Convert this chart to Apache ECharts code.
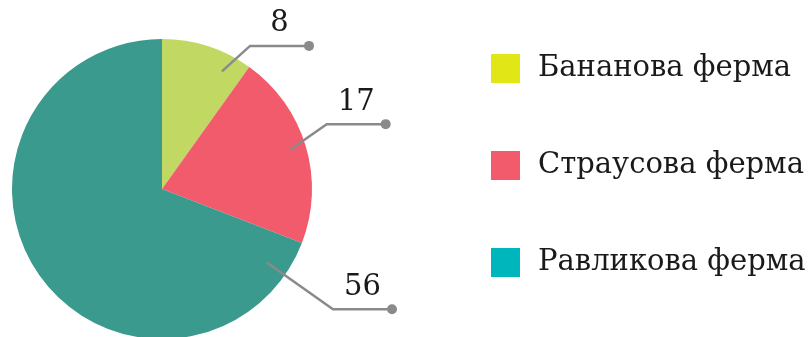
<!DOCTYPE html>
<html><head><meta charset="utf-8">
<script src="https://cdn.jsdelivr.net/npm/echarts@6/dist/echarts.min.js"></script>
<style>html,body{margin:0;padding:0;background:#fff}#chart{width:812px;height:337px}</style>
</head><body><div id="chart"></div>
<script>
// Data
const farms = ['Бананова ферма', 'Страусова ферма', 'Равликова ферма'];
const counts = [8, 17, 56];

// Colours: slices and legend swatches
const sliceColors = ['#c1d962', '#f15b6b', '#3a9a8e'];
const legendColors = ['#e1e617', '#f15b6b', '#00b6bd'];

// Pie geometry (pixels)
const CX = 162, CY = 189, R = 150;

// Callout placement per slice: anchor inside slice, elbow outside, horizontal shelf
const anchorDeg = [27, 73, 125];
const anchorR = [132, 134, 128];
const elbowDeg = [31.6, 68.5, 125.1];
const elbowR = [168, 177, 209];
const SHELF = 59;

const FONT = 'DejaVu Serif';
const TEXT = '#1a1a1a';
const LINE = '#8a8a8a';

function polar(deg, r) {
  const a = deg * Math.PI / 180;
  return [CX + r * Math.sin(a), CY - r * Math.cos(a)];
}
function callout(i) {
  const a = polar(anchorDeg[i], anchorR[i]);
  const e = polar(elbowDeg[i], elbowR[i]);
  const end = [e[0] + SHELF, e[1]];
  return { a, e, end };
}

const chart = echarts.init(document.getElementById('chart'), null, { renderer: 'canvas' });

const pieBase = {
  type: 'pie',
  center: [CX, CY],
  radius: R,
  startAngle: 90,
  clockwise: true,
  avoidLabelOverlap: false,
  silent: true,
  emphasis: { disabled: true }
};

chart.setOption({
  animation: false,
  backgroundColor: '#fff',
  legend: {
    orient: 'vertical',
    left: 491,
    top: 54,
    padding: 0,
    icon: 'rect',
    itemWidth: 29,
    itemHeight: 29,
    itemGap: 68,
    selectedMode: false,
    textStyle: { fontFamily: FONT, fontSize: 29, color: TEXT, padding: [0, 0, 0, 13] },
    data: farms.map((n, i) => ({ name: n, itemStyle: { color: legendColors[i] } }))
  },
  graphic: farms.map((n, i) => {
    const c = callout(i);
    return {
      type: 'circle', silent: true, z: 100,
      shape: { cx: c.end[0], cy: c.end[1], r: 5 },
      style: { fill: LINE }
    };
  }),
  series: [
    // filled slices
    Object.assign({}, pieBase, {
      name: 'slices',
      z: 2,
      itemStyle: { borderWidth: 0 },
      label: { show: false },
      labelLine: { show: false },
      data: farms.map((n, i) => ({ name: n, value: counts[i], itemStyle: { color: sliceColors[i] } }))
    }),
    // value callouts drawn over the slices
    Object.assign({}, pieBase, {
      name: 'callouts',
      z: 10,
      itemStyle: { color: 'rgba(0,0,0,0)', borderWidth: 0 },
      data: farms.map((n, i) => ({ name: n, value: counts[i] })),
      label: {
        show: true,
        position: 'outside',
        formatter: '{c}',
        fontFamily: FONT,
        fontSize: 29,
        color: TEXT
      },
      labelLine: {
        show: true,
        length: 20,
        length2: 40,
        lineStyle: { color: LINE, width: 2.5 }
      },
      labelLayout: function (params) {
        const c = callout(params.dataIndex);
        return {
          x: (c.e[0] + c.end[0]) / 2,
          y: c.e[1] - 22,
          align: 'center',
          verticalAlign: 'middle',
          labelLinePoints: [c.a, c.e, c.end]
        };
      }
    })
  ]
});
</script>
</body></html>
